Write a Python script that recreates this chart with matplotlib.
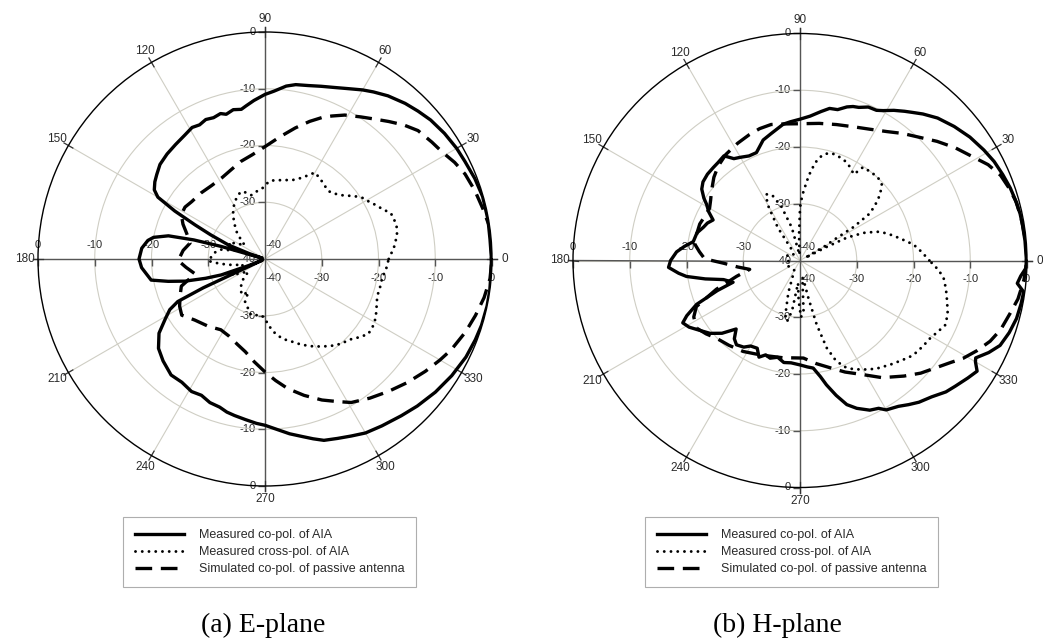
import numpy as np
import matplotlib.pyplot as plt
from matplotlib.lines import Line2D
from matplotlib.markers import TICKLEFT, TICKDOWN

plt.rcParams['font.family'] = ['Liberation Sans', 'DejaVu Sans']

# ---- E-plane data (angle in deg, level in dB) ----
e_co_ang = [0, 5, 10, 16, 21, 26, 30, 35, 40, 44, 48, 53, 57, 60, 64, 68, 72, 76, 80, 83,
            87, 90, 94, 97, 99, 102, 105, 107, 110, 113, 116, 119, 123, 128, 133, 138, 142,
            145, 148, 150, 152, 154, 156, 159, 161, 163, 164, 165, 166.5, 169, 171, 175, 180,
            184, 187, 190.5, 193, 195.5, 198, 200, 202, 203.5, 205, 206, 208, 211, 215, 220,
            225, 231, 236, 241, 245, 249, 253, 256, 259, 263, 267, 270, 274, 278, 282, 285,
            288, 292, 296, 300, 305, 311, 316, 322, 328, 334, 339, 343, 348, 352, 356, 360]
e_co = [-0.1, -0.2, -0.1, -0.1, -0.4, -0.8, -1.0, -1.4, -1.9, -2.5, -3.1, -4.0, -4.9, -5.6,
        -6.6, -7.4, -8.0, -8.5, -8.8, -9.3, -10.4, -11.0, -12.0, -12.8, -13.3, -13.1, -13.6,
        -13.2, -13.5, -13.3, -13.7, -13.5, -14.0, -14.4, -14.7, -15.1, -15.8, -16.3, -17.0,
        -18.2, -22.0, -26.3, -29.5, -33.1, -37.0, -39.5, -32.0, -27.0, -22.5, -20.0, -19.1,
        -18.2, -17.8, -18.2, -18.9, -19.6, -22.5, -25.4, -29.0, -31.8, -37.0, -39.5, -28.0,
        -22.9, -21.0, -19.5, -17.2, -15.5, -14.6, -13.7, -13.8, -13.3, -13.5, -12.9, -12.7,
        -12.2, -11.9, -11.5, -11.0, -10.7, -9.9, -8.9, -8.0, -7.2, -6.4, -5.9, -5.3, -4.6,
        -4.1, -3.4, -2.7, -1.9, -1.2, -0.6, -0.3, -0.1, 0.0, 0.0, -0.1, -0.1]

e_cross_ang = [0, 5, 10, 13, 17, 20, 23, 26, 29, 32, 35, 40, 45, 48, 52, 56, 60, 63, 67, 71,
               75, 78, 83, 87, 92, 97, 102, 106, 110, 114, 118, 122, 126, 131, 136, 141, 146,
               152, 157, 163, 168, 173, 178, 182, 186, 190, 195, 200, 206, 212, 217, 224, 232,
               238, 243, 245, 251, 256, 262, 266, 270, 273, 277, 282, 285, 288, 293, 298, 303,
               309, 313, 316, 320, 324, 328, 332, 336, 340, 344, 347, 351, 355, 360]
e_cross = [-18.2, -17.2, -16.4, -16.1, -16.2, -16.4, -17.5, -18.3, -19.1, -19.7, -20.7, -22.5,
           -23.5, -23.6, -23.2, -22.8, -22.4, -23.5, -24.6, -25.3, -25.6, -25.8, -26.0, -26.3,
           -27.5, -28.0, -28.5, -27.8, -27.4, -28.0, -28.6, -29.5, -30.4, -31.8, -33.0, -34.5,
           -35.7, -34.0, -33.0, -35.0, -32.0, -31.0, -30.5, -30.0, -32.0, -34.0, -36.0, -35.0,
           -33.5, -35.5, -36.3, -34.3, -33.0, -32.5, -33.5, -31.7, -30.8, -29.8, -30.0, -30.1,
           -29.5, -28.3, -27.0, -25.7, -25.2, -24.7, -23.6, -22.6, -21.6, -20.4, -19.8, -19.5,
           -18.5, -17.5, -17.6, -17.9, -18.5, -19.0, -19.2, -19.1, -19.1, -18.6, -18.2]

e_sim_ang = [0, 4, 8, 13, 18, 23, 27, 31, 35, 40, 44, 48, 52, 56, 61, 65, 68, 72, 77, 83, 90,
             97, 104, 111, 118, 126, 134, 142, 147, 152, 157, 162, 168, 174, 181, 186, 192, 198,
             204, 209, 214, 221, 230, 238, 245, 252, 258, 264, 270, 275, 280, 286, 292, 297,
             301, 307, 313, 319, 325, 330, 334, 340, 345, 350, 355, 360]
e_sim = [0.0, -0.1, 0.0, -0.6, -1.1, -1.7, -2.5, -3.5, -4.1, -4.8, -6.0, -7.4, -8.7, -9.8,
         -11.0, -12.2, -13.1, -14.5, -16.3, -18.3, -20.2, -21.5, -22.3, -23.2, -23.8, -24.0,
         -23.8, -23.6, -23.2, -23.3, -24.3, -25.5, -26.5, -25.5, -24.7, -26.0, -27.4, -24.5,
         -23.6, -22.8, -22.3, -23.6, -24.5, -25.3, -25.0, -24.2, -23.3, -21.8, -20.1, -18.5,
         -16.8, -15.0, -13.2, -11.8, -10.5, -9.3, -8.1, -6.8, -5.5, -4.4, -3.5, -2.4, -1.6,
         -0.8, -0.2, 0.0]

# ---- H-plane data ----
h_co_ang = [0, 5, 9, 12, 16, 19, 23, 27, 31, 36, 41, 46, 50, 53, 55, 58, 61, 63, 66, 69, 71,
            73, 76, 79, 82, 86, 90, 94, 97, 100, 103, 107, 112, 116, 120, 123, 126, 130, 133,
            137, 141, 144, 147, 149, 152, 155, 158, 161, 165, 170, 173, 176, 180, 183, 186,
            188, 191, 194, 198, 200, 203, 206, 208, 211, 214, 219, 223, 227, 230, 233, 237,
            240, 244, 247, 250, 253, 257, 261, 265, 270, 274, 277, 280, 282, 285, 288, 291,
            295, 298, 300, 304, 307, 310, 314, 318, 321, 325, 328, 330, 331, 334, 337, 341,
            345, 349, 352, 354, 356, 358, 360]
h_co = [-0.1, -0.2, -0.3, -0.35, -0.6, -0.8, -1.2, -1.6, -2.2, -3.0, -4.0, -5.1, -6.3, -7.3,
        -7.9, -8.8, -9.8, -10.3, -10.4, -11.1, -11.3, -11.7, -12.6, -12.7, -13.5, -14.5, -15.1,
        -15.5, -15.8, -16.5, -17.1, -17.8, -19.5, -19.5, -19.0, -18.6, -17.2, -17.5, -17.6,
        -17.7, -18.0, -18.6, -19.8, -20.8, -21.8, -23.1, -22.4, -22.0, -21.2, -20.9, -19.5,
        -18.2, -17.2, -16.8, -18.5, -19.8, -23.0, -26.1, -27.6, -24.5, -20.2, -17.8, -16.6,
        -17.2, -18.2, -19.6, -21.2, -23.5, -22.0, -21.4, -21.8, -22.6, -22.8, -21.5, -22.3,
        -22.0, -22.5, -21.8, -21.9, -21.6, -21.2, -20.9, -19.2, -17.6, -15.4, -13.3, -12.1,
        -10.9, -10.5, -9.6, -9.0, -8.2, -7.4, -6.6, -5.4, -4.8, -3.9, -3.2, -4.3, -4.6, -3.0,
        -1.7, -1.0, -0.5, -0.3, -0.2, -1.5, -1.0, -0.2, -0.1]

h_cross_ang = [0, 4, 8, 11, 15, 18, 20.5, 23.5, 26, 27, 28, 30, 31.5, 32, 34, 37, 39.5, 43,
               46, 50, 53, 56, 58, 62, 65, 69, 72, 75, 78, 80.5, 83, 85, 88, 90, 92, 95, 104,
               109, 113, 117, 120, 124, 128, 140, 160, 180, 200, 220, 240, 250, 255, 258, 261,
               265, 268, 271, 274, 278, 281, 282.6, 284.6, 287, 289.5, 292.3, 296, 300, 305,
               311, 316, 320, 325, 329, 333, 336, 340, 344.5, 349, 353, 356, 360]
h_cross = [-17.2, -18.5, -19.8, -21.3, -23.0, -24.3, -25.5, -27.8, -30.8, -34.8, -39.0, -35.0,
           -32.4, -28.9, -25.1, -23.2, -21.7, -20.3, -20.0, -20.0, -20.1, -20.2, -22.1, -21.3,
           -20.8, -20.5, -20.3, -20.4, -21.0, -22.2, -24.0, -25.9, -28.5, -30.7, -35.4, -39.0,
           -34.0, -30.0, -27.5, -26.9, -28.5, -33.0, -38.0, -38.5, -37.5, -38.0, -37.5, -38.0,
           -38.0, -34.0, -30.0, -29.0, -31.0, -36.0, -33.0, -30.0, -31.0, -37.0, -36.0, -33.2,
           -28.3, -23.9, -21.5, -19.8, -18.7, -17.8, -16.7, -15.7, -14.8, -14.0, -13.6, -13.3,
           -12.6, -12.0, -12.3, -13.1, -13.8, -14.5, -15.5, -17.2]

h_sim_ang = [0, 5, 10, 15, 19, 23, 27, 31, 36, 41, 46, 51, 56, 62, 68, 75, 82, 90, 96, 102,
             107, 112, 118, 125, 131, 136, 142, 146, 150, 155, 160, 166, 171, 175, 179, 182,
             186, 190, 194, 199, 204, 208, 213, 218, 223, 230, 238, 245, 252, 260, 266, 272,
             279, 286, 292, 299, 305, 312, 317, 322, 326, 329, 333, 337, 341, 346, 350, 355, 360]
h_sim = [0.0, -0.1, -0.3, -0.5, -1.0, -1.6, -2.8, -4.5, -6.2, -8.0, -9.8, -11.2, -12.6, -13.8,
         -14.6, -15.2, -15.6, -15.9, -15.8, -15.5, -15.7, -16.1, -16.6, -17.2, -18.0, -18.9,
         -20.2, -21.0, -21.6, -21.5, -21.2, -21.2, -21.2, -22.2, -23.2, -26.5, -29.0, -31.0,
         -28.5, -24.4, -20.0, -18.8, -18.2, -19.0, -19.9, -20.5, -21.1, -21.8, -22.3, -22.6,
         -22.8, -22.8, -21.6, -20.3, -18.8, -17.0, -14.8, -12.6, -10.9, -9.4, -7.9, -6.5, -5.0,
         -3.6, -2.6, -1.8, -1.0, -0.4, 0.0]

rings = [-30, -20, -10]
angle_labels = list(range(0, 360, 30))
legend_labels = ['Measured co-pol. of AIA', 'Measured cross-pol. of AIA',
                 'Simulated co-pol. of passive antenna']
captions = ['(a) E-plane', '(b) H-plane']

solid_kw = dict(color='black', lw=2.4, solid_joinstyle='round')
dot_kw = dict(color='black', lw=2.1, linestyle=(0, (0.01, 2.3)), dash_capstyle='round')
dash_kw = dict(color='black', lw=2.4, linestyle=(0, (5, 2.6)), dash_capstyle='butt')
txt_col = '#2a2a2a'


def draw_panel(ax, co, cross, sim):
    ax.set_theta_zero_location('E')
    ax.set_theta_direction(1)
    ax.set_rlim(-40, 0)
    ax.set_rticks(rings)
    ax.set_thetagrids(angle_labels, labels=[''] * len(angle_labels))
    ax.set_yticklabels([])
    ax.grid(True, color='#cfcec4', lw=0.8)
    ax.spines['polar'].set_color('black')
    ax.spines['polar'].set_linewidth(1.0)

    # main axes lines + outer ticks
    for a in [0, 90, 180, 270]:
        t = np.deg2rad(a)
        ax.plot([t, t], [-40, 0.9], color='#555555', lw=1.0, zorder=2, clip_on=False)
    for a in angle_labels:
        t = np.deg2rad(a)
        ax.plot([t, t], [-0.9, 0.9], color='#333333', lw=0.9, zorder=2, clip_on=False)
    for a in [90, 270]:
        ax.plot([np.deg2rad(a)] * 4, rings + [0], ls='none', marker=TICKLEFT, ms=5,
                mec='#555555', mew=1.0, zorder=2, clip_on=False)
    for a in [0, 180]:
        ax.plot([np.deg2rad(a)] * 4, rings + [0], ls='none', marker=TICKDOWN, ms=5,
                mec='#555555', mew=1.0, zorder=2, clip_on=False)

    # angle labels
    for a in angle_labels:
        ax.text(np.deg2rad(a), 2.3, str(a), ha='center', va='center', fontsize=8.5,
                color=txt_col, clip_on=False)

    # radial labels
    lab_kw = dict(textcoords='offset pixels', fontsize=8, color=txt_col, zorder=1,
                  annotation_clip=False)
    for r in [0, -10, -20, -30, -40]:
        ax.annotate(str(r), (np.pi / 2, r), xytext=(-9, 0), ha='right', va='center', **lab_kw)
        ax.annotate(str(r), (np.pi, r), xytext=(0 if r > -40 else 8, 14), ha='center',
                    va='center', **lab_kw)
        ax.annotate(str(r), (0, r), xytext=(0 if r > -40 else 8, -19), ha='center',
                    va='center', **lab_kw)
        if r > -40:
            ax.annotate(str(r), (3 * np.pi / 2, r), xytext=(-9, 0), ha='right', va='center',
                        **lab_kw)

    # curves
    ax.plot(np.deg2rad(sim[0]), sim[1], zorder=3, **dash_kw)
    ax.plot(np.deg2rad(cross[0]), cross[1], zorder=3, **dot_kw)
    ax.plot(np.deg2rad(co[0]), co[1], zorder=4, **solid_kw)


fig = plt.figure(figsize=(10.43, 6.43), dpi=100)
W, H = 1043, 643
R = 227
panels = [((265, 259), (e_co_ang, e_co), (e_cross_ang, e_cross), (e_sim_ang, e_sim), 123, 263),
          ((800, 260.5), (h_co_ang, h_co), (h_cross_ang, h_cross), (h_sim_ang, h_sim), 645, 777)]

handles = [Line2D([], [], **solid_kw), Line2D([], [], **dot_kw), Line2D([], [], **dash_kw)]

for i, (c, co, cross, sim, leg_x, cap_x) in enumerate(panels):
    ax = fig.add_axes([(c[0] - R) / W, (H - c[1] - R) / H, 2 * R / W, 2 * R / H],
                      projection='polar')
    draw_panel(ax, co, cross, sim)
    leg = fig.legend(handles, legend_labels, loc='upper left',
                     bbox_to_anchor=(leg_x / W, 1 - 517 / H), fontsize=9,
                     frameon=True, fancybox=False, edgecolor='#9a9a9a',
                     handlelength=3.9, handletextpad=1.2, borderpad=0.95,
                     labelspacing=0.42, borderaxespad=0)
    leg.get_frame().set_linewidth(0.8)
    for t in leg.get_texts():
        t.set_color(txt_col)
    fig.text(cap_x / W, 1 - 625 / H, captions[i], ha='center', va='center',
             fontsize=20, family='Liberation Serif')

fig.savefig('out.png', dpi=100)
